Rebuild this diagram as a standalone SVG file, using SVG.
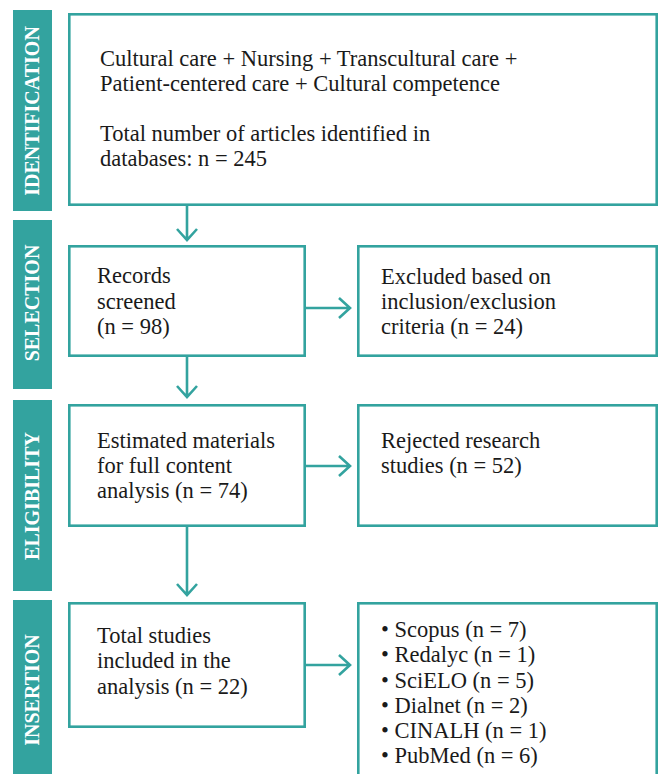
<svg xmlns="http://www.w3.org/2000/svg" width="662" height="774" viewBox="0 0 662 774">
<defs>
<style>
.bar{fill:#33a39f}
.lbl{fill:#ffffff;font-family:"Liberation Serif","Times New Roman",serif;font-weight:bold;font-size:20px;text-anchor:middle}
.box{fill:#ffffff;stroke:#33a39f;stroke-width:2.6}
.t{fill:#1a1a1a;font-family:"Liberation Serif","Times New Roman",serif;font-size:22.5px}
.ln{fill:none;stroke:#33a39f;stroke-width:2.6}
</style>
</defs>
<rect width="662" height="774" fill="#ffffff"/>
<g id="stage-identification">
<rect class="bar" x="13" y="10" width="39" height="201"/>
<text class="lbl" transform="translate(39,111) rotate(-90)">IDENTIFICATION</text>
</g>
<g id="stage-selection">
<rect class="bar" x="13" y="220" width="39" height="169"/>
<text class="lbl" transform="translate(39,303) rotate(-90)">SELECTION</text>
</g>
<g id="stage-eligibility">
<rect class="bar" x="13" y="400" width="39" height="191"/>
<text class="lbl" transform="translate(39,496) rotate(-90)">ELIGIBILITY</text>
</g>
<g id="stage-insertion">
<rect class="bar" x="13" y="600" width="39" height="190"/>
<text class="lbl" transform="translate(39,690) rotate(-90)">INSERTION</text>
</g>
<g id="node-identified">
<rect class="box" x="69.3" y="14.3" width="587.4" height="190.4"/>
<text class="t" x="100" y="66">Cultural care + Nursing + Transcultural care +</text>
<text class="t" x="100" y="91">Patient-centered care + Cultural competence</text>
<text class="t" x="100" y="141">Total number of articles identified in</text>
<text class="t" x="100" y="166">databases: n = 245</text>
</g>
<g id="node-screened">
<rect class="box" x="69.3" y="246.3" width="235.4" height="109.4"/>
<text class="t" x="97" y="283">Records</text>
<text class="t" x="97" y="308.5">screened</text>
<text class="t" x="97" y="334">(n = 98)</text>
</g>
<g id="node-excluded">
<rect class="box" x="358.3" y="246.3" width="298.4" height="109.4"/>
<text class="t" x="381" y="284">Excluded based on</text>
<text class="t" x="381" y="309">inclusion/exclusion</text>
<text class="t" x="381" y="334">criteria (n = 24)</text>
</g>
<g id="node-estimated">
<rect class="box" x="69.3" y="405.3" width="235.4" height="120.4"/>
<text class="t" x="97" y="448">Estimated materials</text>
<text class="t" x="97" y="473">for full content</text>
<text class="t" x="97" y="498">analysis (n = 74)</text>
</g>
<g id="node-rejected">
<rect class="box" x="358.3" y="405.3" width="298.4" height="120.4"/>
<text class="t" x="381" y="448">Rejected research</text>
<text class="t" x="381" y="473">studies (n = 52)</text>
</g>
<g id="node-included">
<rect class="box" x="69.3" y="603.3" width="235.4" height="123.4"/>
<text class="t" x="97" y="643">Total studies</text>
<text class="t" x="97" y="668">included in the</text>
<text class="t" x="97" y="694">analysis (n = 22)</text>
</g>
<g id="node-databases">
<rect class="box" x="358.3" y="603.3" width="298.4" height="200"/>
<text class="t" x="381" y="637">• Scopus (n = 7)</text>
<text class="t" x="381" y="662">• Redalyc (n = 1)</text>
<text class="t" x="381" y="687.5">• SciELO (n = 5)</text>
<text class="t" x="381" y="713">• Dialnet (n = 2)</text>
<text class="t" x="381" y="738">• CINALH (n = 1)</text>
<text class="t" x="381" y="763">• PubMed (n = 6)</text>
</g>
<g id="connectors">
<path class="ln" d="M187 206V240M177 229L187 240L197 229"/>
<path class="ln" d="M187 357V397M177 386L187 397L197 386"/>
<path class="ln" d="M187 527V595M177 584L187 595L197 584"/>
<path class="ln" d="M306 308H350M339 298L350 308L339 318"/>
<path class="ln" d="M306 466H350M339 456L350 466L339 476"/>
<path class="ln" d="M306 665H350M339 655L350 665L339 675"/>
</g>
</svg>
